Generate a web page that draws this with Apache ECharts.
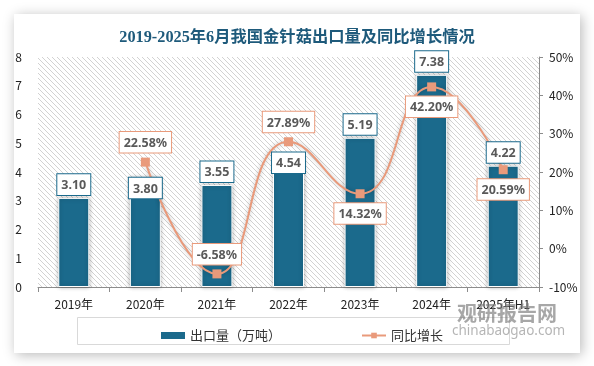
<!DOCTYPE html>
<html><head><meta charset="utf-8">
<script src="https://cdn.jsdelivr.net/npm/echarts@6/dist/echarts.min.js"></script>
<style>html,body{margin:0;padding:0;background:#fff;}#c{width:594px;height:366px;}</style>
</head><body><div id="c"></div>
<script>
const categories = ['2019年','2020年','2021年','2022年','2023年','2024年','2025年H1'];
const exportVolume = [3.10, 3.80, 3.55, 4.54, 5.19, 7.38, 4.22];
const yoyGrowth = ['-', 22.58, -6.58, 27.89, 14.32, 42.20, 20.59];
const leftTicks = {min: 0, max: 8, interval: 1};
const rightTicks = {min: -10, max: 50, interval: 10};

const barColor = '#1b6a8c';
const lineColor = '#e99a7b';
const barLabelPos = ['top','insideTop','top','insideTop','top','top','top'];
const lineLabelPos = ['top','top','top','top','bottom','bottom','bottom'];

const pc = document.createElement('canvas');
pc.width = 5; pc.height = 5;
const px = pc.getContext('2d');
px.fillStyle = '#ffffff'; px.fillRect(0,0,5,5);
px.strokeStyle = '#d2d2d2'; px.lineWidth = 1;
px.beginPath();
px.moveTo(-1,-1); px.lineTo(6,6);
px.moveTo(-1,4); px.lineTo(2,7);
px.moveTo(4,-1); px.lineTo(7,2);
px.stroke();

const chart = echarts.init(document.getElementById('c'));
const fam = "'Noto Sans CJK SC','Noto Sans',sans-serif";
const boldLabel = {fontFamily: "'Noto Sans','Noto Sans CJK SC',sans-serif", fontWeight: 'bold', fontSize: 12.5, color: '#595959'};

const barLabelData = exportVolume.map((v, i) => ({
  value: v,
  label: {position: barLabelPos[i], distance: barLabelPos[i] === 'insideTop' ? (i === 3 ? -4 : 0) : 3}
}));
const lineData = yoyGrowth.map((v, i) => ({
  value: v,
  label: {position: lineLabelPos[i], distance: 5}
}));

chart.setOption({
  animation: false,
  backgroundColor: 'transparent',
  graphic: [
    {type: 'rect', z: -100, shape: {x: 14, y: 14, width: 566, height: 339},
     style: {fill: '#fff', shadowBlur: 12, shadowColor: 'rgba(0,0,0,0.28)', shadowOffsetX: 2, shadowOffsetY: 2}},
    {type: 'rect', z: 1, shape: {x: 77.5, y: 317.5, width: 432, height: 27},
     style: {fill: 'none', stroke: '#d9d9d9', lineWidth: 1}},
    {type: 'text', z: 100, left: 457, top: 303,
     style: {text: '观研报告网', fill: 'rgba(120,120,120,0.65)', font: "bold 20px 'Noto Sans CJK SC'"}},
    {type: 'text', z: 100, left: 452, top: 324,
     style: {text: 'chinabaogao.com', fill: 'rgba(120,120,120,0.55)', font: "13.5px 'Noto Sans','DejaVu Sans'"}}
  ],
  title: {
    text: '2019-2025年6月我国金针菇出口量及同比增长情况',
    left: 'center', top: 25,
    textStyle: {fontFamily: "'Liberation Serif','Noto Sans CJK SC',serif", fontWeight: 'bold', fontSize: 16.3, color: '#1e5a7b'}
  },
  legend: {
    left: 156, top: 324,
    itemWidth: 24, itemHeight: 7, itemGap: 80,
    textStyle: {fontFamily: fam, fontSize: 13, color: '#333'},
    data: [
      {name: '出口量（万吨）', icon: 'rect', itemStyle: {color: barColor, borderWidth: 0}},
      {name: '同比增长'}
    ]
  },
  grid: {
    left: 38, right: 55, top: 57, bottom: 79,
    show: true, borderWidth: 0,
    backgroundColor: {image: pc, repeat: 'repeat'}
  },
  xAxis: {
    type: 'category', data: categories,
    axisLine: {lineStyle: {color: '#8c8c8c', width: 1}},
    axisTick: {show: true, alignWithLabel: false, length: 5, lineStyle: {color: '#8c8c8c'}},
    axisLabel: {fontFamily: fam, fontSize: 12, color: '#222', margin: 11}
  },
  yAxis: [
    {type: 'value', min: leftTicks.min, max: leftTicks.max, interval: leftTicks.interval,
     splitLine: {show: false}, axisLine: {show: false}, axisTick: {show: false},
     axisLabel: {fontFamily: fam, fontSize: 12, color: '#222', margin: 16}},
    {type: 'value', min: rightTicks.min, max: rightTicks.max, interval: rightTicks.interval,
     position: 'right', splitLine: {show: false},
     axisLine: {show: true, lineStyle: {color: '#8c8c8c'}},
     axisTick: {show: true, length: 4, lineStyle: {color: '#8c8c8c'}},
     axisLabel: {fontFamily: fam, fontSize: 12, color: '#222', margin: 10, formatter: '{value}%'}}
  ],
  series: [
    {name: '出口量（万吨）', type: 'bar', yAxisIndex: 0, data: exportVolume, barWidth: 31, z: 2,
     itemStyle: {color: barColor, borderColor: '#fff', borderWidth: 1, shadowBlur: 4, shadowColor: 'rgba(0,0,0,0.3)'},
     label: {show: false}},
    {name: '同比增长', type: 'line', yAxisIndex: 1, data: lineData, smooth: 0.5,
     symbol: 'rect', symbolSize: 9, z: 5,
     lineStyle: {color: lineColor, width: 2, shadowBlur: 4, shadowColor: 'rgba(0,0,0,0.25)'},
     itemStyle: {color: lineColor},
     label: Object.assign({show: true, formatter: p => p.value.toFixed(2) + '%',
       backgroundColor: '#fff', borderColor: lineColor, borderWidth: 1, padding: [5, 4, 3, 4]}, boldLabel)},
    {name: 'barLabels', type: 'bar', yAxisIndex: 0, data: barLabelData, barWidth: 31, barGap: '-100%', z: 8,
     silent: true, legendHoverLink: false,
     itemStyle: {color: 'rgba(0,0,0,0)'},
     label: Object.assign({show: true, formatter: p => p.value.toFixed(2),
       backgroundColor: '#fff', borderColor: barColor, borderWidth: 1, padding: [5, 4, 3, 4]}, boldLabel)}
  ]
});
</script></body></html>
